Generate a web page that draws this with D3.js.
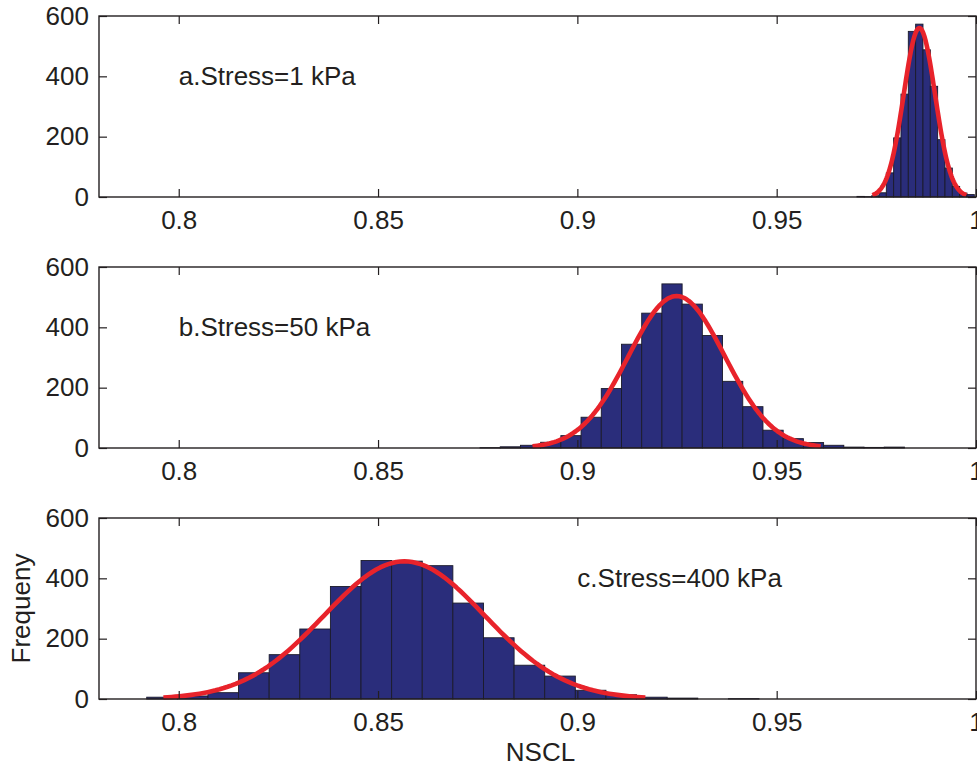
<!DOCTYPE html>
<html>
<head>
<meta charset="utf-8">
<script src="https://cdn.jsdelivr.net/npm/d3@7"></script>
<style>
  html, body { margin: 0; padding: 0; background: #fff; }
  svg { display: block; font-family: "Liberation Sans", Arial, Helvetica, sans-serif; }
</style>
</head>
<body>
<svg id="chart" width="977" height="771"></svg>
<script>
// Histogram counts of NSCL for three stress levels, with fitted normal curves
const xTicks = [0.8, 0.85, 0.9, 0.95, 1];
const yTicks = [0, 200, 400, 600];
const panelLabels = ["a.Stress=1 kPa", "b.Stress=50 kPa", "c.Stress=400 kPa"];
const labelX = [0.8, 0.8, 0.9];
const labelY = [400, 400, 400];

// left edge of the first bin and bin width for each panel
const binStart = [0.97014, 0.87558, 0.79197];
const binWidth = [0.00184, 0.00507, 0.00768];

const countsA = [2, 1, 4, 14, 80, 196, 341, 549, 573, 488, 367, 190, 96, 35, 13, 8];
const countsB = [1, 4, 9, 19, 41, 102, 197, 344, 447, 544, 477, 373, 221, 137, 59, 31, 18, 9, 3, 2, 3];
const countsC = [6, 10, 21, 87, 147, 232, 373, 459, 457, 442, 318, 203, 112, 76, 29, 14, 6, 3, 0, 1];
const counts = [countsA, countsB, countsC];

// normal fit parameters (mean, standard deviation) and sample size
const fitMean = [0.9858, 0.9249, 0.8566];
const fitSigma = [0.00393, 0.01205, 0.02015];
const sampleSize = 3000;

const svg = d3.select("#chart");
const plotLeft = 99, plotRight = 976;
const panelTops = [16, 267, 518];
const panelHeight = 181;
const textColor = "#231f20";
const barFill = "#2a2d7b";
const fitColor = "#e8232b";
const fontSize = 26;

const x = d3.scaleLinear().domain([0.78, 1]).range([plotLeft, plotRight]);

panelTops.forEach((top, i) => {
  const y = d3.scaleLinear().domain([0, 600]).range([top + panelHeight, top]);
  const g = svg.append("g");

  // bars
  const bars = counts[i].map((c, k) => ({
    x0: binStart[i] + k * binWidth[i],
    x1: binStart[i] + (k + 1) * binWidth[i],
    c
  }));
  g.append("g").selectAll("rect").data(bars).join("rect")
    .attr("x", d => x(d.x0))
    .attr("width", d => x(d.x1) - x(d.x0))
    .attr("y", d => y(d.c))
    .attr("height", d => y(0) - y(d.c))
    .attr("fill", barFill)
    .attr("stroke", "#1b1b2a")
    .attr("stroke-width", 0.9);

  // fitted normal curve over mean +/- 3 sd, scaled to counts
  const mu = fitMean[i], sd = fitSigma[i];
  const pts = d3.range(-3, 3.0001, 0.05).map(t => {
    const v = mu + t * sd;
    const dens = Math.exp(-0.5 * t * t) / (sd * Math.sqrt(2 * Math.PI));
    return [v, sampleSize * binWidth[i] * dens];
  });
  g.append("path")
    .datum(pts)
    .attr("fill", "none")
    .attr("stroke", fitColor)
    .attr("stroke-width", 4.6)
    .attr("stroke-linejoin", "round")
    .attr("d", d3.line().x(d => x(d[0])).y(d => y(d[1])));

  // axes box with inward ticks
  const axisStyle = sel => {
    sel.select(".domain").remove();
    sel.selectAll(".tick line").attr("stroke", textColor).attr("stroke-width", 1.2);
    sel.selectAll(".tick text").attr("fill", textColor).attr("font-size", fontSize)
      .attr("font-family", "'Liberation Sans', Arial, Helvetica, sans-serif");
  };
  g.append("g").attr("transform", `translate(0,${top + panelHeight})`)
    .call(d3.axisBottom(x).tickValues(xTicks).tickSize(-8).tickPadding(14)
      .tickFormat(d => d3.format("")(+d.toFixed(2))))
    .call(axisStyle);
  g.append("g").attr("transform", `translate(0,${top})`)
    .call(d3.axisTop(x).tickValues(xTicks).tickSize(-8).tickFormat(""))
    .call(axisStyle);
  g.append("g").attr("transform", `translate(${plotLeft},0)`)
    .call(d3.axisLeft(y).tickValues(yTicks).tickSize(-8).tickPadding(10))
    .call(axisStyle);
  g.append("g").attr("transform", `translate(${plotRight},0)`)
    .call(d3.axisRight(y).tickValues(yTicks).tickSize(-8).tickFormat(""))
    .call(axisStyle);
  g.append("rect")
    .attr("x", plotLeft).attr("y", top)
    .attr("width", plotRight - plotLeft).attr("height", panelHeight)
    .attr("fill", "none").attr("stroke", textColor).attr("stroke-width", 1.4);

  g.append("text")
    .attr("x", x(labelX[i])).attr("y", y(labelY[i]))
    .attr("dy", "0.35em")
    .attr("fill", textColor).attr("font-size", fontSize)
    .text(panelLabels[i]);
});

svg.append("text")
  .attr("x", (plotLeft + plotRight) / 2 + 3).attr("y", 761)
  .attr("text-anchor", "middle").attr("fill", textColor).attr("font-size", fontSize)
  .text("NSCL");

svg.append("text")
  .attr("transform", `translate(30,${panelTops[2] + panelHeight / 2}) rotate(-90)`)
  .attr("text-anchor", "middle").attr("fill", textColor).attr("font-size", fontSize)
  .text("Frequeny");
</script>
</body>
</html>
